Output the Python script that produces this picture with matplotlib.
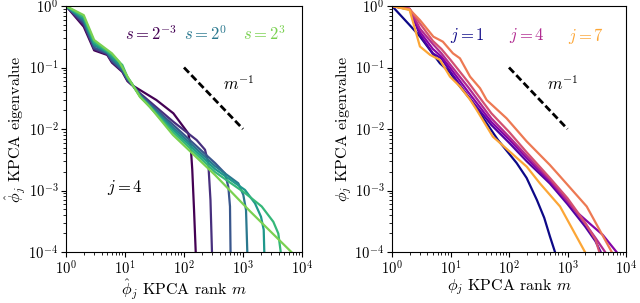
import matplotlib
matplotlib.use("Agg")
import matplotlib.pyplot as plt
import numpy as np

plt.rcParams['font.family'] = 'serif'
plt.rcParams['font.serif'] = ['cmr10', 'DejaVu Serif']
plt.rcParams['mathtext.fontset'] = 'cm'
plt.rcParams['axes.formatter.use_mathtext'] = True
plt.rcParams['axes.unicode_minus'] = False

# ---------------- left panel data (j = 4, varying s) ----------------
S_LABELS = [r'$s = 2^{-3}$', r'$s = 2^{0}$', r'$s = 2^{3}$']
L0_M = [1, 2, 3, 5, 6, 9, 11, 13, 18, 34, 66, 118, 130, 138, 148, 158]
L0_V = [1, 0.46, 0.19, 0.16, 0.12, 0.085, 0.06, 0.052, 0.043, 0.0296, 0.018, 0.0085, 0.0052, 0.0022, 4.8e-4, 1e-4]
L1_M = [1, 2, 3, 5, 6, 9, 11, 13, 18, 66, 164, 227, 258, 281, 298]
L1_V = [1, 0.5, 0.2, 0.165, 0.125, 0.087, 0.062, 0.053, 0.038, 0.0131, 0.0066, 0.0046, 0.0028, 7e-4, 1e-4]
L2_M = [1, 2, 3, 5, 6, 9, 11, 13, 18, 66, 335, 495, 564, 602, 615]
L2_V = [1, 0.54, 0.21, 0.17, 0.13, 0.09, 0.064, 0.054, 0.036, 0.0116, 0.0028, 0.0019, 0.00115, 5.5e-4, 1e-4]
L3_M = [1, 2, 3, 5, 6, 9, 11, 13, 18, 66, 335, 832, 1012, 1125, 1183]
L3_V = [1, 0.58, 0.23, 0.175, 0.14, 0.095, 0.066, 0.054, 0.035, 0.0105, 0.0025, 0.00131, 8.5e-4, 4.8e-4, 1e-4]
L4_M = [1, 2, 3, 5, 6, 9, 11, 13, 18, 66, 335, 1081, 1596, 2018, 2244, 2296]
L4_V = [1, 0.62, 0.24, 0.18, 0.15, 0.1, 0.068, 0.055, 0.034, 0.0096, 0.00224, 0.00102, 6.2e-4, 3.75e-4, 2.3e-4, 1e-4]
L5_M = [1, 2, 3, 5, 6, 9, 11, 13, 18, 66, 335, 1081, 2075, 3266, 3966, 4356]
L5_V = [1, 0.66, 0.26, 0.185, 0.16, 0.11, 0.07, 0.055, 0.034, 0.0088, 0.002, 9.1e-4, 5.5e-4, 3.1e-4, 2e-4, 1e-4]
L6_M = [1, 2, 3, 6, 8, 11, 13, 18, 26.5, 65, 335, 1315, 6600]
L6_V = [1, 0.71, 0.28, 0.17, 0.124, 0.071, 0.055, 0.033, 0.0228, 0.008, 0.00179, 4.6e-4, 1e-4]

# ---------------- right panel data (varying j) ----------------
J_LABELS = [r'$j = 1$', r'$j = 4$', r'$j = 7$']
R1_M = [1, 2, 3, 6.6, 9.8, 14.5, 21.6, 65, 135, 200, 300, 400, 500, 611]
R1_V = [1, 0.49, 0.32, 0.117, 0.083, 0.049, 0.031, 0.0066, 0.0028, 0.0016, 7e-4, 3.6e-4, 1.8e-4, 1e-4]
R2_M = [1, 2, 3, 5, 7, 10, 20, 50, 100, 200, 500, 1000, 2000, 3000, 3700]
R2_V = [1, 0.88, 0.34, 0.17, 0.14, 0.085, 0.034, 0.0116, 0.006, 0.003, 0.0013, 6e-4, 2.6e-4, 1.5e-4, 1e-4]
R3_M = [1, 2, 3, 5, 7, 10, 20, 50, 100, 200, 500, 1000, 1500, 2500, 4000, 6900]
R3_V = [1, 0.9, 0.38, 0.2, 0.15, 0.097, 0.04, 0.013, 0.0068, 0.0034, 0.0014, 6.5e-4, 4.3e-4, 2.8e-4, 1.9e-4, 1e-4]
R4_M = [1, 2, 3, 5, 7, 10, 20, 50, 100, 200, 500, 1000, 2000, 3000, 4400]
R4_V = [1, 0.9, 0.43, 0.24, 0.17, 0.11, 0.048, 0.0149, 0.0075, 0.0037, 0.0015, 6.8e-4, 2.9e-4, 1.7e-4, 1e-4]
R5_M = [1, 2, 3, 5, 7, 10, 20, 50, 100, 200, 500, 1000, 2000, 3000, 3500]
R5_V = [1, 0.9, 0.52, 0.27, 0.2, 0.133, 0.058, 0.018, 0.009, 0.0042, 0.0016, 7.5e-4, 3e-4, 1.6e-4, 1e-4]
R6_M = [1, 2, 3, 5.1, 7.4, 11, 14.5, 21.6, 32, 41.5, 91, 200, 500, 745, 2130, 5700]
R6_V = [1, 0.88, 0.59, 0.317, 0.263, 0.17, 0.141, 0.071, 0.046, 0.0296, 0.0149, 0.0063, 0.0026, 0.0017, 5.5e-4, 1e-4]
R7_M = [1, 2, 3, 4.5, 6.6, 9.8, 14.5, 21.6, 28, 53, 201, 339, 745, 1990]
R7_V = [1, 0.86, 0.22, 0.16, 0.133, 0.071, 0.049, 0.03, 0.0204, 0.0075, 0.00244, 0.0013, 5.5e-4, 1e-4]

SLOPE_M = [100, 1000]
SLOPE_V = [0.1, 0.01]

left_curves = [(L0_M, L0_V), (L1_M, L1_V), (L2_M, L2_V), (L3_M, L3_V),
               (L4_M, L4_V), (L5_M, L5_V), (L6_M, L6_V)]
right_curves = [(R1_M, R1_V), (R2_M, R2_V), (R3_M, R3_V), (R4_M, R4_V),
                (R5_M, R5_V), (R6_M, R6_V), (R7_M, R7_V)]

lcols = plt.cm.viridis(np.linspace(0, 0.8, 7))
rcols = plt.cm.plasma(np.linspace(0, 0.8, 7))

fig = plt.figure(figsize=(6.4, 3.03), dpi=100)
axL = fig.add_axes([66/640, 1-252/303, 236/640, 246/303])
axR = fig.add_axes([392/640, 1-252/303, 234/640, 246/303])

for (m, v), c in zip(left_curves, lcols):
    axL.plot(m, v, color=c, lw=1.6)
for (m, v), c in zip(right_curves, rcols):
    axR.plot(m, v, color=c, lw=1.6)

for ax in (axL, axR):
    ax.set_xscale('log')
    ax.set_yscale('log')
    ax.set_xlim(1, 1e4)
    ax.set_ylim(1e-4, 1)
    ax.plot(SLOPE_M, SLOPE_V, color='k', lw=2, dashes=(2.6, 1.2))
    ax.text(450, 0.055, r'$m^{-1}$', fontsize=12, ha='left', va='center')
    ax.tick_params(labelsize=10.5, pad=2)

lab_kw = dict(fontsize=11.5, labelpad=0)
axL.set_xlabel(r'$\hat{\phi}_j$ KPCA rank $m$', **lab_kw)
axL.set_ylabel(r'$\hat{\phi}_j$ KPCA eigenvalue', **lab_kw)
axR.set_xlabel(r'$\phi_j$ KPCA rank $m$', **lab_kw)
axR.set_ylabel(r'$\phi_j$ KPCA eigenvalue', **lab_kw)

axL.text(5, 1.1e-3, r'$j = 4$', fontsize=12, ha='left', va='center')

for xpos, lab, idx in zip([10, 100, 1000], S_LABELS, [0, 3, 6]):
    axL.text(xpos, 0.35, lab, fontsize=12, color=lcols[idx], ha='left', va='center')
for xpos, lab, idx in zip([10, 100, 1000], J_LABELS, [0, 3, 6]):
    axR.text(xpos, 0.33, lab, fontsize=12, color=rcols[idx], ha='left', va='center')

fig.savefig('out.png', dpi=100)
